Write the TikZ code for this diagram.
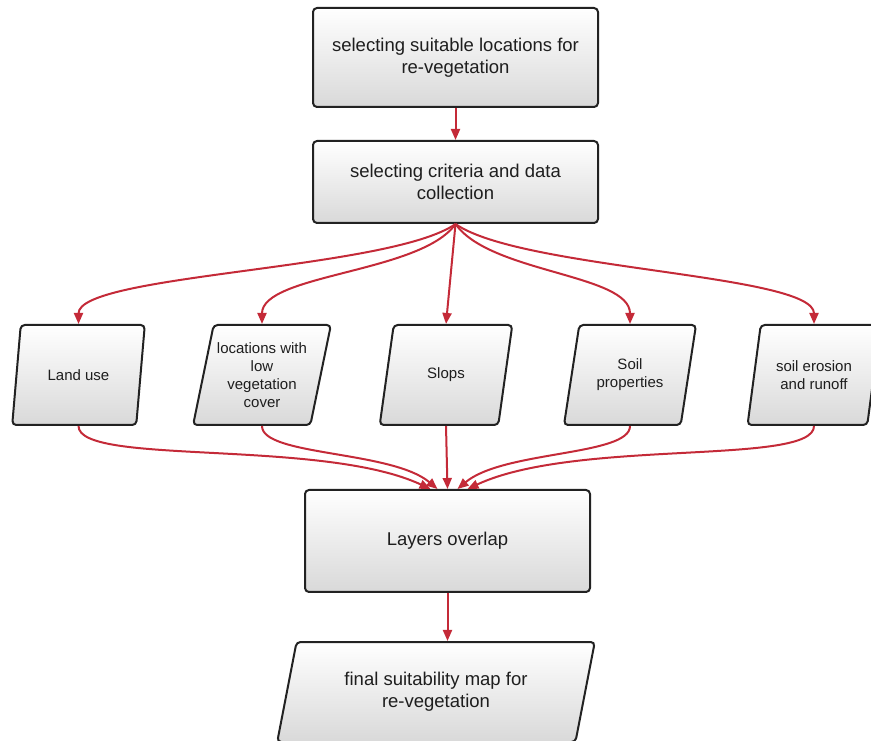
\documentclass[tikz,border=0pt]{standalone}
\usepackage{fontspec}
\setmainfont{Liberation Sans}
\definecolor{linered}{RGB}{196,42,56}
\definecolor{boxline}{RGB}{34,34,34}
\definecolor{boxtext}{RGB}{30,30,30}
\usetikzlibrary{arrows.meta,shapes.geometric}

\begin{document}
\begin{tikzpicture}[x=1pt,y=1pt,
    stepbox/.style={draw=boxline, line width=2pt, rounded corners=4pt, top color=white, bottom color=black!15,
        minimum width=285pt, align=center, text=boxtext, font=\fontsize{18.5}{22}\selectfont},
    databox/.style={draw=boxline, line width=2pt, rounded corners=4pt, top color=white, bottom color=black!15,
        trapezium, trapezium left angle=74, trapezium right angle=106, trapezium stretches=true,
        minimum width=133pt, minimum height=100pt, align=center, text=boxtext, font=\fontsize{15}{18}\selectfont},
    flow/.style={draw=linered, line width=2pt, -{Triangle[length=11pt,width=9pt]}}]
    \useasboundingbox (0,0) rectangle (871,740);

    \node[stepbox, minimum height=99pt] (select) at (455.5,682.5) {selecting suitable locations for\\re-vegetation};
    \node[stepbox, minimum height=82pt] (criteria) at (455.5,558) {selecting criteria and data\\collection};

    \node[databox] (landuse) at (78.5,365) {Land use};
    \node[databox] (lowveg) at (262,365) {locations with\\low\\vegetation\\cover};
    \node[databox] (slope) at (446,365) {Slops};
    \node[databox] (soil) at (630,365) {Soil\\properties};
    \node[databox] (erosion) at (814,365) {soil erosion\\and runoff};

    \node[stepbox, minimum height=102pt] (overlap) at (447.5,199) {Layers overlap};
    \node[databox, minimum width=318pt, font=\fontsize{18.5}{22}\selectfont] (suitmap) at (436,48) {final suitability map for\\re-vegetation};

    \draw[flow] (select.south) -- (criteria.north);

    \draw[flow] (criteria.south) to[out=-145, in=90, out distance=80pt, in distance=50pt] (landuse.north);
    \draw[flow] (criteria.south) to[out=-125, in=90, out distance=60pt, in distance=50pt] (lowveg.north);
    \draw[flow] (criteria.south) -- (slope.north);
    \draw[flow] (criteria.south) to[out=-55, in=90, out distance=60pt, in distance=50pt] (soil.north);
    \draw[flow] (criteria.south) to[out=-35, in=90, out distance=80pt, in distance=50pt] (erosion.north);

    \draw[flow] (landuse.south) to[out=-90, in=155, out distance=40pt, in distance=120pt] ([xshift=-17pt]overlap.north);
    \draw[flow] (lowveg.south) to[out=-90, in=140, out distance=30pt, in distance=60pt] ([xshift=-10pt]overlap.north);
    \draw[flow] (slope.south) -- (overlap.north);
    \draw[flow] (soil.south) to[out=-90, in=40, out distance=30pt, in distance=60pt] ([xshift=10pt]overlap.north);
    \draw[flow] (erosion.south) to[out=-90, in=25, out distance=40pt, in distance=120pt] ([xshift=20pt]overlap.north);

    \draw[flow] (overlap.south) -- (overlap.south |- suitmap.north);
\end{tikzpicture}
\end{document}
